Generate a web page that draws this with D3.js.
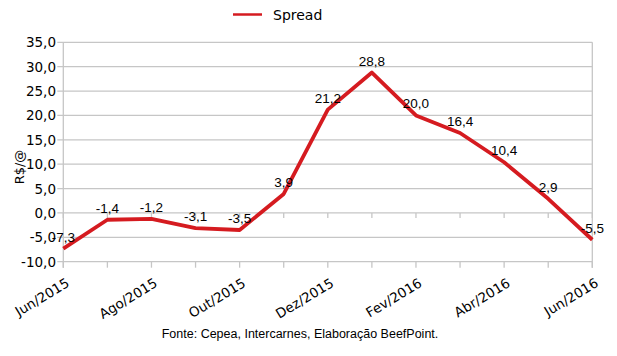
<!DOCTYPE html>
<html><head><meta charset="utf-8">
<script src="https://cdn.jsdelivr.net/npm/d3@7"></script>
<style>body{margin:0;background:#fff}svg{display:block}</style>
</head><body>
<script>
const categories = ["Jun/2015","Jul/2015","Ago/2015","Set/2015","Out/2015","Nov/2015","Dez/2015","Jan/2016","Fev/2016","Mar/2016","Abr/2016","Mai/2016","Jun/2016"];
const spread = [-7.3,-1.4,-1.2,-3.1,-3.5,3.9,21.2,28.8,20.0,16.4,10.4,2.9,-5.5];
const yTicks = [-10,-5,0,5,10,15,20,25,30,35];
const labelCats = ["Jun/2015","Ago/2015","Out/2015","Dez/2015","Fev/2016","Abr/2016","Jun/2016"];

const W=617,H=356;
const L=63.3,R=592.3,T=42.3,B=261.7;
const svg=d3.select("body").append("svg").attr("width",W).attr("height",H);
const x=d3.scalePoint().domain(categories).range([L,R]);
const y=d3.scaleLinear().domain([-10,35]).range([B,T]);
const fmt=v=>v.toFixed(1).replace(".",",");
const grid="#c6c6c6";

svg.append("g").selectAll("line").data(yTicks).join("line")
 .attr("x1",L-6).attr("x2",R).attr("y1",d=>y(d)).attr("y2",d=>y(d))
 .attr("stroke",grid).attr("stroke-width",1.3);
svg.append("line").attr("x1",L).attr("x2",L).attr("y1",T).attr("y2",B+6).attr("stroke",grid).attr("stroke-width",1.3);
svg.append("line").attr("x1",R).attr("x2",R).attr("y1",T).attr("y2",B+6).attr("stroke",grid).attr("stroke-width",1.3);
svg.append("g").selectAll("line").data(categories).join("line")
 .attr("x1",d=>x(d)).attr("x2",d=>x(d)).attr("y1",B).attr("y2",B+6).attr("stroke",grid).attr("stroke-width",1.3);
svg.append("g").selectAll("line").data(categories).join("line")
 .attr("x1",d=>x(d)).attr("x2",d=>x(d)).attr("y1",y(0)).attr("y2",y(0)+5).attr("stroke",grid).attr("stroke-width",1.3);

svg.append("g").selectAll("text").data(yTicks).join("text")
 .attr("x",56).attr("y",d=>y(d)+5).attr("text-anchor","end")
 .attr("font-family","DejaVu Sans, Verdana, sans-serif").attr("font-size",13.5).attr("fill","#000")
 .text(d=>fmt(d));
svg.append("g").selectAll("text").data(labelCats).join("text")
 .attr("transform",d=>`translate(${x(d)+7},${B+24}) rotate(-31)`)
 .attr("text-anchor","end")
 .attr("font-family","DejaVu Sans, Verdana, sans-serif").attr("font-size",13.5).attr("fill","#000")
 .text(d=>d);
svg.append("text").attr("transform",`translate(24,167) rotate(-90)`).attr("text-anchor","middle")
 .attr("font-family","DejaVu Sans, Verdana, sans-serif").attr("font-size",13).text("R$/@");

const line=d3.line().x((d,i)=>x(categories[i])).y(d=>y(d));
svg.append("path").datum(spread).attr("d",line).attr("fill","none")
 .attr("stroke","#d51b20").attr("stroke-width",3.8).attr("stroke-linejoin","round");

svg.append("g").selectAll("text").data(spread).join("text")
 .attr("x",(d,i)=>x(categories[i])).attr("y",d=>y(d)-7).attr("text-anchor","middle")
 .attr("font-family","Liberation Sans, Arial, sans-serif").attr("font-size",13.5).attr("fill","#000")
 .text(d=>fmt(d));

svg.append("line").attr("x1",233).attr("x2",262).attr("y1",14.5).attr("y2",14.5).attr("stroke","#d51b20").attr("stroke-width",2.5);
svg.append("text").attr("x",273).attr("y",20).attr("font-family","DejaVu Sans, Verdana, sans-serif").attr("font-size",14).text("Spread");

svg.append("text").attr("x",300).attr("y",338).attr("text-anchor","middle")
 .attr("font-family","Liberation Sans, Arial, sans-serif").attr("font-size",12.5).text("Fonte: Cepea, Intercarnes, Elaboração BeefPoint.");
</script>
</body></html>
